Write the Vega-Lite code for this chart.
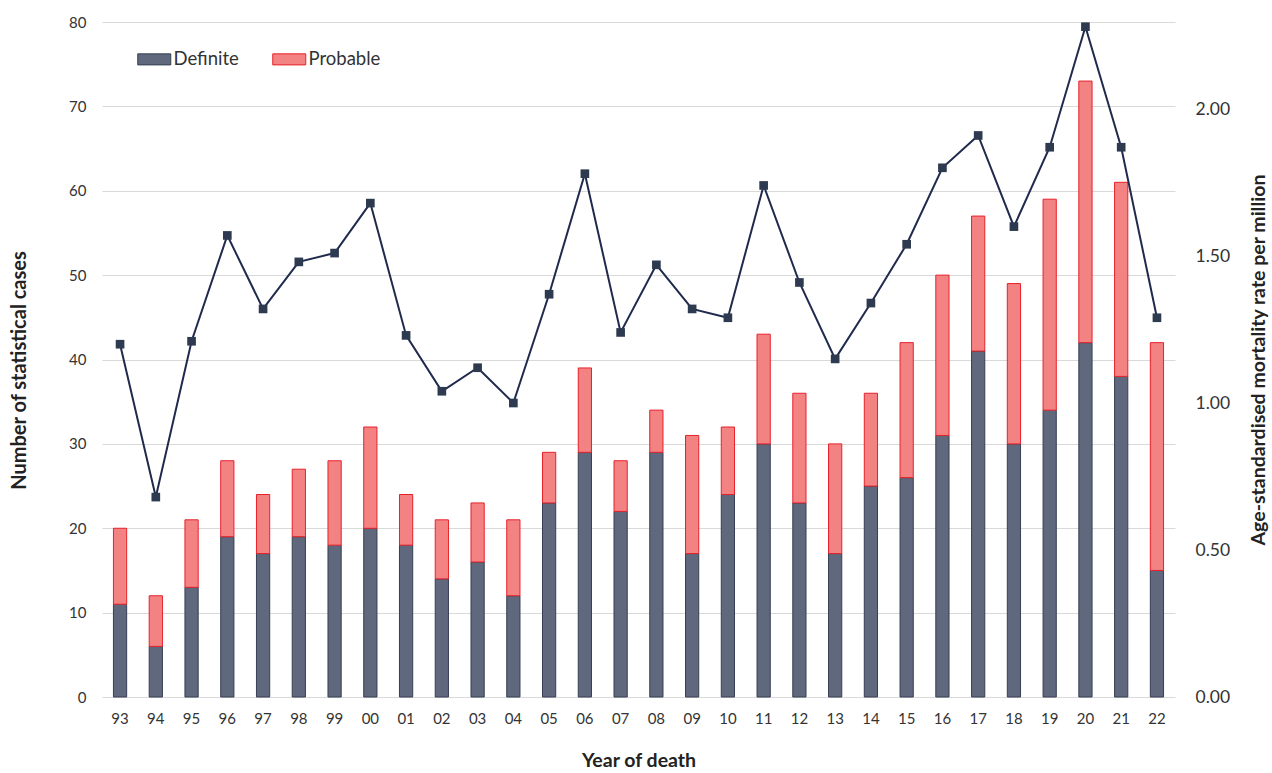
{
  "$schema": "https://vega.github.io/schema/vega-lite/v6.json",
  "width": 1073,
  "height": 675,
  "autosize": {"type": "none"},
  "padding": {"left": 102, "top": 22, "right": 97, "bottom": 76},
  "background": "white",
  "config": {
    "font": "Lato",
    "view": {"stroke": null},
    "axis": {"labelFont": "Lato", "titleFont": "Lato", "labelColor": "#333333", "titleColor": "#222222"}
  },
  "datasets": {
    "bars": [
      {"year": "93", "type": "Definite", "cases": 11}, {"year": "93", "type": "Probable", "cases": 9},
      {"year": "94", "type": "Definite", "cases": 6}, {"year": "94", "type": "Probable", "cases": 6},
      {"year": "95", "type": "Definite", "cases": 13}, {"year": "95", "type": "Probable", "cases": 8},
      {"year": "96", "type": "Definite", "cases": 19}, {"year": "96", "type": "Probable", "cases": 9},
      {"year": "97", "type": "Definite", "cases": 17}, {"year": "97", "type": "Probable", "cases": 7},
      {"year": "98", "type": "Definite", "cases": 19}, {"year": "98", "type": "Probable", "cases": 8},
      {"year": "99", "type": "Definite", "cases": 18}, {"year": "99", "type": "Probable", "cases": 10},
      {"year": "00", "type": "Definite", "cases": 20}, {"year": "00", "type": "Probable", "cases": 12},
      {"year": "01", "type": "Definite", "cases": 18}, {"year": "01", "type": "Probable", "cases": 6},
      {"year": "02", "type": "Definite", "cases": 14}, {"year": "02", "type": "Probable", "cases": 7},
      {"year": "03", "type": "Definite", "cases": 16}, {"year": "03", "type": "Probable", "cases": 7},
      {"year": "04", "type": "Definite", "cases": 12}, {"year": "04", "type": "Probable", "cases": 9},
      {"year": "05", "type": "Definite", "cases": 23}, {"year": "05", "type": "Probable", "cases": 6},
      {"year": "06", "type": "Definite", "cases": 29}, {"year": "06", "type": "Probable", "cases": 10},
      {"year": "07", "type": "Definite", "cases": 22}, {"year": "07", "type": "Probable", "cases": 6},
      {"year": "08", "type": "Definite", "cases": 29}, {"year": "08", "type": "Probable", "cases": 5},
      {"year": "09", "type": "Definite", "cases": 17}, {"year": "09", "type": "Probable", "cases": 14},
      {"year": "10", "type": "Definite", "cases": 24}, {"year": "10", "type": "Probable", "cases": 8},
      {"year": "11", "type": "Definite", "cases": 30}, {"year": "11", "type": "Probable", "cases": 13},
      {"year": "12", "type": "Definite", "cases": 23}, {"year": "12", "type": "Probable", "cases": 13},
      {"year": "13", "type": "Definite", "cases": 17}, {"year": "13", "type": "Probable", "cases": 13},
      {"year": "14", "type": "Definite", "cases": 25}, {"year": "14", "type": "Probable", "cases": 11},
      {"year": "15", "type": "Definite", "cases": 26}, {"year": "15", "type": "Probable", "cases": 16},
      {"year": "16", "type": "Definite", "cases": 31}, {"year": "16", "type": "Probable", "cases": 19},
      {"year": "17", "type": "Definite", "cases": 41}, {"year": "17", "type": "Probable", "cases": 16},
      {"year": "18", "type": "Definite", "cases": 30}, {"year": "18", "type": "Probable", "cases": 19},
      {"year": "19", "type": "Definite", "cases": 34}, {"year": "19", "type": "Probable", "cases": 25},
      {"year": "20", "type": "Definite", "cases": 42}, {"year": "20", "type": "Probable", "cases": 31},
      {"year": "21", "type": "Definite", "cases": 38}, {"year": "21", "type": "Probable", "cases": 23},
      {"year": "22", "type": "Definite", "cases": 15}, {"year": "22", "type": "Probable", "cases": 27}
    ],
    "rate": [
      {"year": "93", "rate": 1.20}, {"year": "94", "rate": 0.68}, {"year": "95", "rate": 1.21},
      {"year": "96", "rate": 1.57}, {"year": "97", "rate": 1.32}, {"year": "98", "rate": 1.48},
      {"year": "99", "rate": 1.51}, {"year": "00", "rate": 1.68}, {"year": "01", "rate": 1.23},
      {"year": "02", "rate": 1.04}, {"year": "03", "rate": 1.12}, {"year": "04", "rate": 1.00},
      {"year": "05", "rate": 1.37}, {"year": "06", "rate": 1.78}, {"year": "07", "rate": 1.24},
      {"year": "08", "rate": 1.47}, {"year": "09", "rate": 1.32}, {"year": "10", "rate": 1.29},
      {"year": "11", "rate": 1.74}, {"year": "12", "rate": 1.41}, {"year": "13", "rate": 1.15},
      {"year": "14", "rate": 1.34}, {"year": "15", "rate": 1.54}, {"year": "16", "rate": 1.80},
      {"year": "17", "rate": 1.91}, {"year": "18", "rate": 1.60}, {"year": "19", "rate": 1.87},
      {"year": "20", "rate": 2.28}, {"year": "21", "rate": 1.87}, {"year": "22", "rate": 1.29}
    ]
  },
  "encoding": {
    "x": {
      "field": "year",
      "type": "ordinal",
      "scale": {
        "domain": ["93","94","95","96","97","98","99","00","01","02","03","04","05","06","07","08","09","10","11","12","13","14","15","16","17","18","19","20","21","22"],
        "paddingInner": 0.63,
        "paddingOuter": 0.32
      },
      "axis": {
        "title": "Year of death",
        "titleFontSize": 19.5,
        "titleFontWeight": "bold",
        "titlePadding": 25,
        "labelFontSize": 15,
        "labelPadding": 14,
        "labelAngle": 0,
        "ticks": false,
        "domain": false
      }
    }
  },
  "layer": [
    {
      "data": {"name": "bars"},
      "mark": {"type": "bar", "strokeWidth": 1},
      "encoding": {
        "y": {
          "field": "cases",
          "type": "quantitative",
          "stack": "zero",
          "scale": {"domain": [0, 80], "nice": false},
          "axis": {
            "title": "Number of statistical cases",
            "titleFontSize": 20,
            "titleFontWeight": "bold",
            "titlePadding": 39,
            "titleY": 348,
            "values": [0,10,20,30,40,50,60,70,80],
            "labelFontSize": 15,
            "labelPadding": 16,
            "ticks": false,
            "domain": false,
            "grid": true,
            "gridColor": "#d9d9d9",
            "gridWidth": 1
          }
        },
        "color": {
          "field": "type",
          "type": "nominal",
          "scale": {"domain": ["Definite", "Probable"], "range": ["#5f687c", "#f38383"]},
          "legend": {
            "title": null,
            "orient": "none",
            "legendX": 43,
            "legendY": 28,
            "direction": "horizontal",
            "symbolType": "M-2.75,-0.92H2.75V0.92H-2.75Z",
            "symbolSize": 144,
            "symbolStrokeWidth": 1,
            "labelFontSize": 18.5,
            "labelColor": "#333333",
            "labelOffset": 10,
            "columnPadding": 31,
            "padding": 0
          }
        },
        "stroke": {
          "field": "type",
          "type": "nominal",
          "scale": {"domain": ["Definite", "Probable"], "range": ["#363f52", "#e8202a"]},
          "legend": null
        },
        "order": {"field": "type", "sort": "ascending"}
      }
    },
    {
      "data": {"name": "rate"},
      "mark": {"type": "line", "color": "#1f2a4d", "strokeWidth": 2},
      "encoding": {
        "y": {
          "field": "rate",
          "type": "quantitative",
          "scale": {"domain": [0, 2.296], "nice": false},
          "axis": {
            "orient": "right",
            "title": "Age-standardised mortality rate per million",
            "titleAngle": -90,
            "titleFontSize": 19.5,
            "titleFontWeight": "bold",
            "titlePadding": 39,
            "values": [0, 0.5, 1, 1.5, 2],
            "format": ".2f",
            "labelFontSize": 17.5,
            "labelPadding": 20,
            "ticks": false,
            "domain": false,
            "grid": false
          }
        }
      }
    },
    {
      "data": {"name": "rate"},
      "mark": {"type": "point", "shape": "square", "filled": true, "size": 75, "color": "#2e3a50", "opacity": 1},
      "encoding": {
        "y": {"field": "rate", "type": "quantitative", "scale": {"domain": [0, 2.296], "nice": false}, "axis": null}
      }
    }
  ],
  "resolve": {"scale": {"y": "independent"}}
}
